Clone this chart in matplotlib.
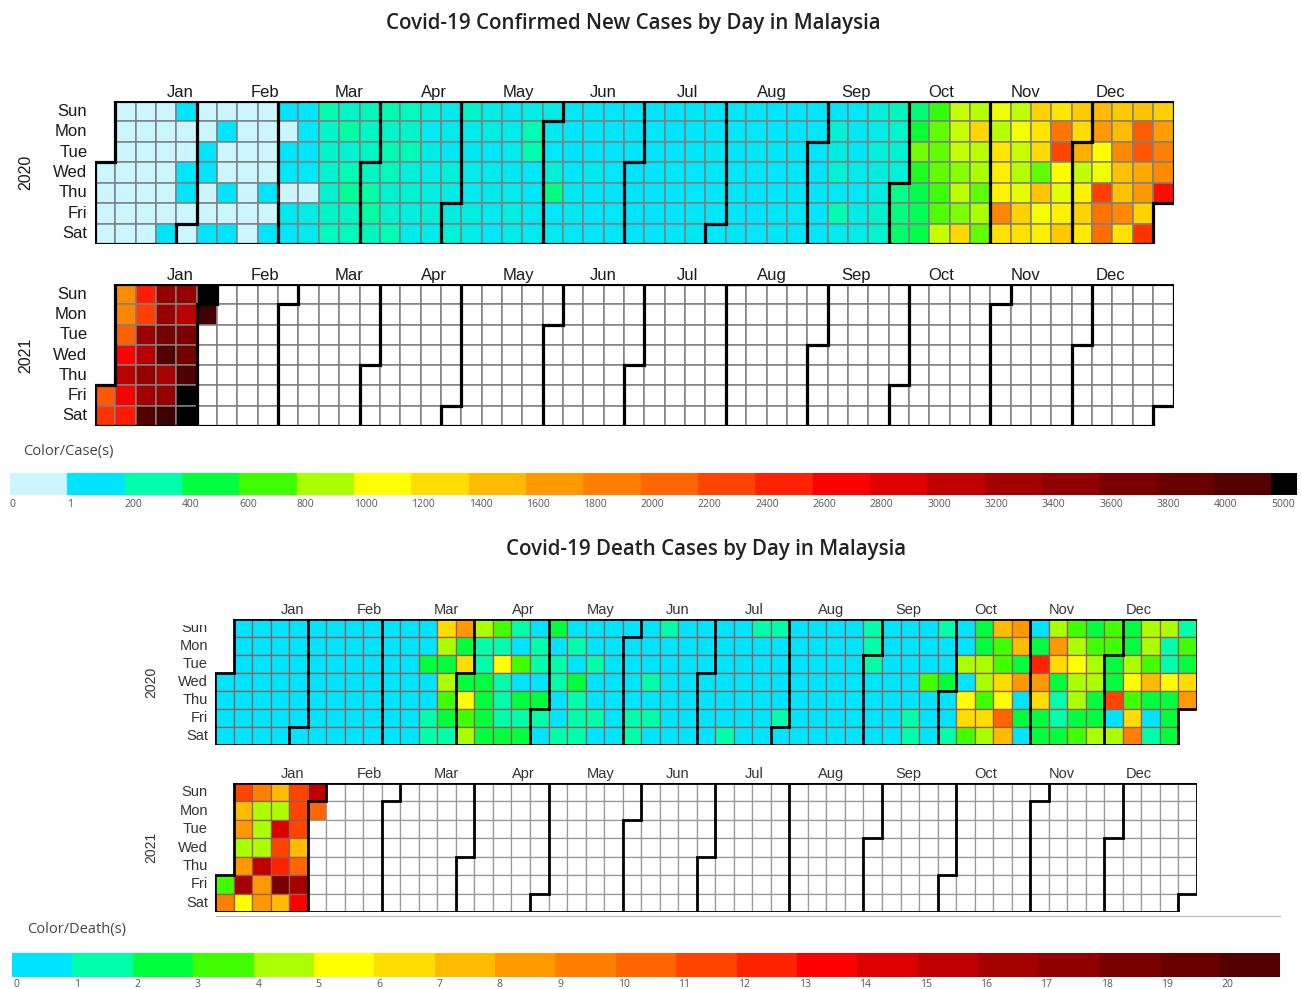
import datetime as dt

import numpy as np
import matplotlib
matplotlib.use("Agg")
import matplotlib.pyplot as plt
from matplotlib.colors import to_rgb
from matplotlib.patches import Rectangle
from matplotlib.collections import PatchCollection
from matplotlib.transforms import Bbox, TransformedBbox

# --- daily confirmed new cases, 2020 -----------------------------------------
cases_jan = [0, 0, 0, 0, 0, 0, 0, 0, 0, 0, 0, 0, 0, 0, 0, 0, 0, 0, 0, 0,
             0, 0, 0, 0, 3, 1, 0, 0, 3, 1, 0]
cases_feb = [0, 0, 0, 2, 2, 0, 0, 2, 0, 1, 0, 0, 1, 0, 1, 0, 0, 0, 0, 0,
             0, 0, 0, 0, 0, 0, 1, 0, 1]
cases_mar = [4, 0, 7, 14, 0, 28, 10, 6, 18, 12, 20, 0, 60, 41, 190, 125, 120,
             117, 110, 130, 153, 123, 212, 106, 172, 235, 130, 159, 150, 140, 142]
cases_apr = [142, 208, 217, 150, 179, 131, 170, 156, 109, 118, 184, 153, 134,
             170, 85, 110, 69, 54, 84, 36, 57, 50, 71, 88, 51, 38, 40, 31, 94, 57]
cases_may = [69, 105, 122, 55, 30, 45, 39, 68, 54, 67, 70, 16, 37, 40, 36, 17,
             22, 47, 37, 31, 50, 78, 48, 60, 172, 187, 15, 10, 30, 38, 57]
cases_jun = [38, 20, 93, 277, 19, 37, 19, 7, 2, 8, 31, 33, 24, 17, 7, 8, 41, 8,
             6, 10, 15, 6, 5, 5, 3, 10, 9, 5, 4, 6]
cases_jul = [1, 3, 3, 4, 3, 7, 7, 6, 8, 2, 9, 4, 4, 6, 6, 6, 12, 15, 17, 10, 15,
             9, 8, 15, 23, 10, 20, 28, 14, 16, 15]
cases_aug = [11, 14, 16, 15, 11, 18, 9, 15, 10, 20, 25, 8, 4, 2, 7, 2, 8, 15, 8,
             7, 16, 18, 5, 8, 11, 17, 8, 21, 9, 6, 6]
cases_sep = [10, 3, 11, 7, 10, 10, 100, 62, 100, 18, 182, 47, 13, 26, 21, 50, 15,
             52, 52, 82, 57, 82, 71, 71, 111, 115, 150, 115, 101, 89]
cases_oct = [260, 287, 317, 293, 432, 691, 489, 375, 354, 374, 563, 660, 660,
             660, 589, 629, 869, 871, 865, 862, 732, 847, 710, 1228, 823, 1240,
             835, 801, 649, 799, 659]
cases_nov = [957, 834, 1150, 1100, 1070, 1755, 1168, 852, 972, 869, 822, 941,
             1270, 1170, 1260, 1150, 1210, 660, 1340, 977, 1096, 1150, 1884, 2188,
             1009, 935, 1080, 1315, 1309, 1212]
cases_dec = [1472, 851, 1075, 1260, 1123, 1400, 1600, 1020, 960, 2234, 1900,
             1950, 1320, 1400, 1720, 1360, 1360, 1720, 1170, 1360, 2050, 2100,
             1500, 1600, 1260, 2300, 1280, 1580, 1800, 1720, 2525]
# 1 Jan 2021 .. 1 Feb 2021
cases_2021 = [2068, 2295, 1704, 1741, 2027, 2593, 3027, 2643, 2451, 2433, 2232,
              3309, 3062, 3337, 3211, 4029, 3339, 3306, 3631, 4008, 3170, 3346,
              4275, 3346, 3048, 3585, 3680, 4094, 5725, 5728, 5298, 4214]

# --- daily deaths, 2020 ---------------------------------------------------------
deaths_jan = [0, 0, 0, 0, 0, 0, 0, 0, 0, 0, 0, 0, 0, 0, 0, 0, 0, 0, 0, 0,
              0, 0, 0, 0, 0, 0, 0, 0, 0, 0, 0]
deaths_feb = [0, 0, 0, 0, 0, 0, 0, 0, 0, 0, 0, 0, 0, 0, 0, 0, 0, 0, 0, 0,
              0, 0, 0, 0, 0, 0, 0, 0, 0]
deaths_mar = [0, 0, 0, 0, 0, 0, 0, 0, 0, 0, 0, 0, 0, 0, 0, 0, 2, 0, 0, 1,
              1, 6, 4, 2, 4, 3, 2, 1, 8, 2, 6]
deaths_apr = [2, 5, 3, 4, 4, 1, 1, 2, 2, 2, 2, 3, 1, 5, 1, 1, 1, 2, 1, 0,
              3, 0, 2, 1, 2, 0, 1, 1, 0, 2]
deaths_may = [1, 0, 2, 0, 1, 1, 0, 0, 1, 0, 1, 0, 2, 1, 1, 1, 0, 0, 1, 0,
              0, 1, 0, 0, 0, 0, 0, 0, 0, 0, 0]
deaths_jun = [0, 0, 0, 0, 1, 1, 0, 0, 0, 1, 0, 1, 0, 1, 0, 0, 0, 0, 0, 0,
              0, 0, 0, 0, 0, 0, 0, 0, 0, 0]
deaths_jul = [0, 0, 0, 0, 0, 0, 0, 0, 0, 0, 1, 0, 0, 0, 0, 0, 0, 0, 1, 0,
              0, 0, 0, 0, 0, 1, 0, 0, 0, 0, 1]
deaths_aug = [0, 0, 0, 0, 0, 0, 0, 0, 0, 0, 0, 0, 0, 0, 0, 0, 0, 0, 0, 0,
              0, 0, 0, 0, 0, 0, 0, 0, 0, 1, 1]
deaths_sep = [1, 0, 0, 0, 0, 0, 0, 0, 0, 0, 0, 0, 0, 0, 0, 0, 0, 1, 1, 0,
              0, 0, 3, 0, 0, 0, 1, 0, 0, 2]
deaths_oct = [0, 0, 1, 0, 0, 4, 0, 5, 6, 3, 2, 2, 4, 4, 3, 6, 4, 7, 3, 3,
              6, 5, 10, 7, 8, 7, 2, 8, 0, 2, 0]
deaths_nov = [0, 2, 12, 8, 6, 2, 2, 4, 8, 6, 2, 1, 1, 2, 3, 4, 5, 4, 4, 2,
              3, 2, 3, 4, 4, 2, 2, 4, 3, 3]
deaths_dec = [2, 2, 11, 0, 4, 2, 2, 4, 5, 3, 6, 9, 4, 4, 3, 7, 2, 0, 1, 4,
              1, 1, 5, 2, 2, 2, 1, 3, 2, 6, 8]
deaths_2021 = [3, 9, 11, 7, 8, 4, 8, 16, 5, 9, 4, 4, 4, 15, 8, 8, 7, 4, 14, 11,
               12, 18, 7, 11, 11, 11, 7, 10, 16, 13, 15, 10]

cases_2020 = (cases_jan + cases_feb + cases_mar + cases_apr + cases_may + cases_jun
              + cases_jul + cases_aug + cases_sep + cases_oct + cases_nov + cases_dec)
deaths_2020 = (deaths_jan + deaths_feb + deaths_mar + deaths_apr + deaths_may
               + deaths_jun + deaths_jul + deaths_aug + deaths_sep + deaths_oct
               + deaths_nov + deaths_dec)

# --- colour scales ----------------------------------------------------------------
case_breaks = [0, 1, 200, 400, 600, 800, 1000, 1200, 1400, 1600, 1800, 2000, 2200,
               2400, 2600, 2800, 3000, 3200, 3400, 3600, 3800, 4000, 5000]
case_labels = [str(b) for b in case_breaks]
case_colors = ["#ccf6ff", "#00e5ff", "#00ffaa", "#00ff3c", "#40ff00", "#aaff00",
               "#ffff00", "#ffdd00", "#ffbb00", "#ff9900", "#ff8000", "#ff6600",
               "#ff4400", "#ff2200", "#ff0000", "#e00000", "#c00000", "#a50000",
               "#900000", "#7a0000", "#680000", "#550000", "#000000"]
death_labels = [str(i) for i in range(21)]
death_colors = ["#00e5ff", "#00ffaa", "#00ff3c", "#40ff00", "#aaff00", "#ffff00",
                "#ffdd00", "#ffbb00", "#ff9900", "#ff8000", "#ff6600", "#ff4400",
                "#ff2200", "#ff0000", "#dd0000", "#c00000", "#a50000", "#900000",
                "#7a0000", "#680000", "#550000"]

case_rgb = np.array([to_rgb(c) for c in case_colors])

W, H = 1301, 989
fig = plt.figure(figsize=(W / 100, H / 100), dpi=100)
fig.patch.set_facecolor("white")

ARIAL = ["Liberation Sans", "DejaVu Sans"]
OPEN = ["Open Sans", "DejaVu Sans"]
DAYS = ["Sun", "Mon", "Tue", "Wed", "Thu", "Fri", "Sat"]
MONTHS = ["Jan", "Feb", "Mar", "Apr", "May", "Jun", "Jul", "Aug", "Sep", "Oct",
          "Nov", "Dec"]
month_x = 4.18 + 4.155 * np.arange(12)


def px_axes(x0, y0, x1, y1):
    ax = fig.add_axes([x0 / W, 1 - y1 / H, (x1 - x0) / W, (y1 - y0) / H])
    ax.set_axis_off()
    return ax


def calendar(ax, year, values, colour, edge_on, edge_off, cell_lw, thick,
             fs, txt_col, month_dy, clip_sun=None):
    start = dt.date(year, 1, 1)
    off = (start.weekday() + 1) % 7            # Sunday = row 0
    ndays = (dt.date(year, 12, 31) - start).days + 1
    rects, fcs, ecs = [], [], []
    for i in range(ndays):
        c, r = divmod(i + off, 7)
        rects.append(Rectangle((c, r), 1, 1))
        if i < len(values):
            fcs.append(colour(values[i]))
            ecs.append(edge_on)
        else:
            fcs.append("white")
            ecs.append(edge_off)
    ax.add_collection(PatchCollection(rects, facecolors=fcs, edgecolors=ecs,
                                      linewidths=cell_lw))
    kw = dict(color="black", lw=thick, solid_joinstyle="miter",
              solid_capstyle="projecting", zorder=5)
    # month separators
    for m in range(2, 13):
        c, r = divmod((dt.date(year, m, 1) - start).days + off, 7)
        ax.plot([c, c, c + 1, c + 1], [7, r, r, 0], **kw)
    # outline of the whole year
    ce, re_ = divmod(ndays - 1 + off, 7)
    xs = [1, ce + 1, ce + 1, ce, ce, 0, 0, 1, 1]
    ys = [0, 0, re_ + 1, re_ + 1, 7, 7, off, off, 0]
    ax.plot(xs, ys, **kw)
    ax.set_xlim(0, 53)
    ax.set_ylim(7, 0)
    for k, name in enumerate(DAYS):
        t = ax.text(-0.38, k + 0.5, name, ha="right", va="center",
                    fontsize=fs, color=txt_col, family=ARIAL)
        if k == 0 and clip_sun is not None:
            t.set_clip_box(TransformedBbox(Bbox(clip_sun), fig.dpi_scale_trans))
            t.set_clip_on(True)
    for x, name in zip(month_x, MONTHS):
        ax.text(x, -month_dy, name, ha="center", va="center", fontsize=fs,
                color=txt_col, family=ARIAL)
    ax.text(-3.42, 3.5, str(year), rotation=90, ha="center", va="center",
            fontsize=fs - 0.5, color=txt_col, family=ARIAL)


def colour_case(v):
    # piecewise-linear blend between the colour-bar anchors
    v = min(max(v, 0), case_breaks[-1])
    return tuple(np.interp(v, case_breaks, case_rgb[:, k]) for k in range(3))


def colour_death(v):
    return death_colors[min(int(v), len(death_colors) - 1)]


# --- top chart: confirmed cases ------------------------------------------------------
fig.text(633 / W, 1 - 23 / H, "Covid-19 Confirmed New Cases by Day in Malaysia",
         ha="center", va="center", fontsize=14.8, color="#222222", family=OPEN,
         fontweight="semibold")
ax = px_axes(95, 101, 1173.5, 244)
calendar(ax, 2020, cases_2020, colour_case, "#808080", "#808080", 1.1, 2.3,
         12, "#1a1a1a", 0.42)
ax = px_axes(95, 284, 1173.5, 426)
calendar(ax, 2021, cases_2021, colour_case, "#808080", "#808080", 1.1, 2.3,
         12, "#1a1a1a", 0.42)

fig.text(23 / W, 1 - 451 / H, "Color/Case(s)", ha="left", va="center",
         fontsize=10.5, color="#444444", family=OPEN)
cb = px_axes(10, 473, 1297, 495)
nb = len(case_colors)
for i, col in enumerate(case_colors):
    cb.add_patch(Rectangle((i, 0), 1, 1, facecolor=col, edgecolor="none"))
cb.set_xlim(0, nb - 1 + 0.45)
cb.set_ylim(0, 1)
for i, lab in enumerate(case_labels):
    cb.text(i, -0.45, lab, ha="left", va="center", fontsize=7.5,
            color="#555555", family=OPEN)

# --- bottom chart: deaths -------------------------------------------------------------
fig.text(706 / W, 1 - 549 / H, "Covid-19 Death Cases by Day in Malaysia",
         ha="center", va="center", fontsize=14.8, color="#222222", family=OPEN,
         fontweight="semibold")
ax = px_axes(215, 619, 1197, 745)
calendar(ax, 2020, deaths_2020, colour_death, "#9a5a55", "#999999", 0.9, 2.0,
         10.5, "#333333", 0.5,
         clip_sun=[[0, 0], [W / 100, (H - 625) / 100]])
ax = px_axes(215, 783, 1197, 912)
calendar(ax, 2021, deaths_2021, colour_death, "#9a5a55", "#999999", 0.9, 2.0,
         10.5, "#333333", 0.5)
fig.add_artist(plt.Line2D([216 / W, 1280 / W], [1 - 916 / H, 1 - 916 / H],
                          color="#bbbbbb", lw=0.8))

fig.text(27 / W, 1 - 930 / H, "Color/Death(s)", ha="left", va="center",
         fontsize=10.5, color="#444444", family=OPEN)
cb = px_axes(12, 953, 1280, 977)
for i, col in enumerate(death_colors):
    cb.add_patch(Rectangle((i, 0), 1, 1, facecolor=col, edgecolor="none"))
cb.set_xlim(0, len(death_colors))
cb.set_ylim(0, 1)
for i, lab in enumerate(death_labels):
    cb.text(i + 0.03, -0.33, lab, ha="left", va="center", fontsize=7.5,
            color="#555555", family=OPEN)

fig.savefig("out.png", dpi=100, facecolor="white")
